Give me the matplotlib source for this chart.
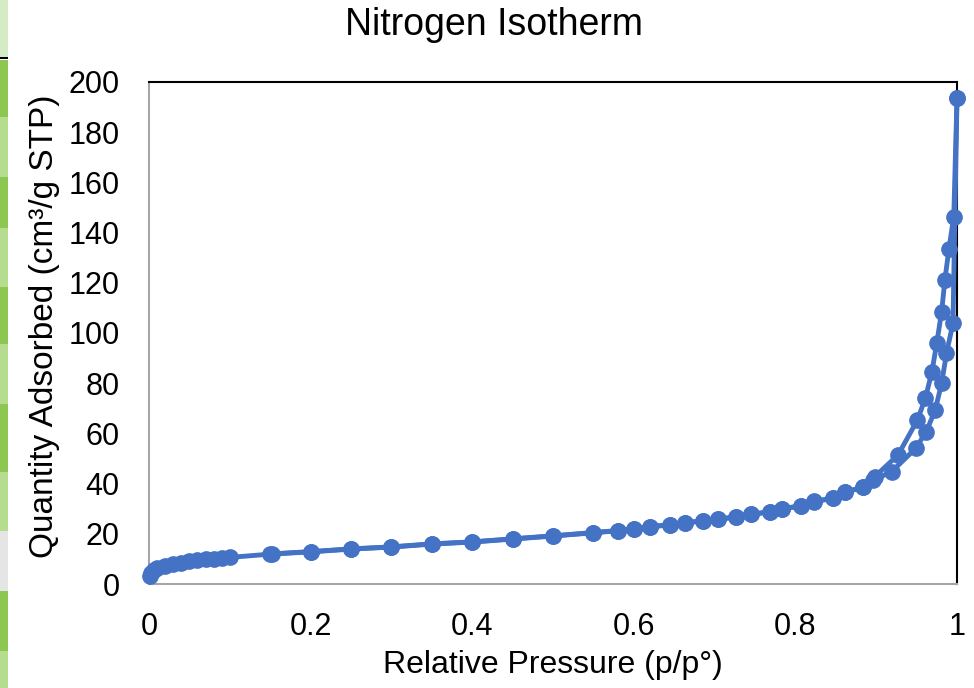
import matplotlib.pyplot as plt
from matplotlib.patches import Rectangle

plt.rcParams['font.family'] = ['Liberation Sans', 'DejaVu Sans']

# adsorption branch (p/p0, quantity adsorbed)
ads_p = [0.001, 0.003, 0.006, 0.01, 0.02, 0.03, 0.04, 0.05, 0.06, 0.07, 0.08, 0.09, 0.10,
         0.15, 0.20, 0.25, 0.30, 0.35, 0.40, 0.45, 0.50, 0.55, 0.58, 0.60, 0.62, 0.645,
         0.663, 0.686, 0.704, 0.726, 0.745, 0.768, 0.784, 0.807, 0.823, 0.846, 0.861,
         0.884, 0.896, 0.919, 0.949, 0.962, 0.973, 0.981, 0.987, 0.995, 1.0]
ads_q = [3.0, 4.3, 5.4, 6.3, 7.3, 8.0, 8.5, 9.0, 9.4, 9.8, 10.1, 10.4, 10.6,
         11.9, 12.8, 13.9, 14.7, 15.9, 16.7, 17.9, 19.1, 20.4, 21.2, 21.9, 22.8, 23.5,
         24.4, 25.0, 25.8, 26.6, 27.8, 28.6, 29.9, 31.1, 32.8, 34.1, 36.5,
         38.5, 41.4, 44.7, 54.1, 60.7, 69.3, 80.0, 91.9, 103.9, 193.5]

# desorption branch
des_p = [1.0, 0.996, 0.990, 0.985, 0.981, 0.975, 0.969, 0.961, 0.951, 0.927, 0.898,
         0.884, 0.861, 0.846, 0.823, 0.807, 0.784, 0.768, 0.745, 0.726, 0.704, 0.686,
         0.663, 0.645, 0.62, 0.60, 0.58, 0.55, 0.50, 0.45, 0.40, 0.35, 0.30, 0.25,
         0.20, 0.152]
des_q = [193.5, 146.3, 133.5, 121.1, 108.5, 96.1, 84.6, 74.2, 65.3, 51.4, 42.7,
         38.6, 36.6, 34.2, 32.9, 31.2, 30.0, 28.7, 27.9, 26.7, 25.9, 25.1,
         24.5, 23.6, 22.9, 22.0, 21.3, 20.5, 19.2, 18.0, 16.8, 16.0, 14.8, 14.0,
         12.9, 12.0]

blue = '#4472C4'

fig = plt.figure(figsize=(9.74, 6.88), dpi=100)
ax = fig.add_axes([149/974, 1 - 584/688, 808/974, 502/688])

ax.plot(ads_p, ads_q, '-o', color=blue, lw=3.5, markersize=11, clip_on=False, zorder=3)
ax.plot(des_p, des_q, '-o', color=blue, lw=3.5, markersize=11, clip_on=False, zorder=3)

ax.set_xlim(0, 1)
ax.set_ylim(0, 200)
ax.set_xticks([0, 0.2, 0.4, 0.6, 0.8, 1.0])
ax.set_xticklabels(['0', '0.2', '0.4', '0.6', '0.8', '1'])
ax.set_yticks(range(0, 201, 20))
ax.tick_params(length=0, labelsize=22)
ax.tick_params(axis='x', pad=20)
ax.tick_params(axis='y', pad=21)

for s in ['left', 'bottom']:
    ax.spines[s].set_color('#A6A6A6')
    ax.spines[s].set_linewidth(1.5)
for s in ['top', 'right']:
    ax.spines[s].set_color('black')
    ax.spines[s].set_linewidth(1.5)

fig.text(494/974, 1 - 25/688, 'Nitrogen Isotherm', fontsize=27, ha='center', va='center')
fig.text(553/974, 1 - 665/688, 'Relative Pressure (p/p°)', fontsize=23, ha='center', va='center')
fig.text(45/974, 1 - 326/688, 'Quantity Adsorbed (cm³/g STP)', fontsize=24,
         rotation=90, ha='center', va='center')

# cropped spreadsheet strip on the left edge
strip = [(0, 57, '#D5EBC6'), (60, 117, '#8CC751'), (117, 177, '#B5DC8F'),
         (177, 228, '#8CC751'), (228, 287, '#B5DC8F'), (287, 344, '#8CC751'),
         (344, 404, '#B5DC8F'), (404, 472, '#8CC751'), (472, 531, '#B5DC8F'),
         (531, 591, '#E5E5E5'), (591, 651, '#8CC751'), (651, 688, '#B5DC8F')]
for y0, y1, c in strip:
    fig.add_artist(Rectangle((0, 1 - y1/688), 8/974, (y1 - y0)/688,
                             transform=fig.transFigure, color=c, lw=0))
fig.add_artist(Rectangle((0, 1 - 59/688), 8/974, 2/688,
                         transform=fig.transFigure, color='black', lw=0))

fig.savefig('out.png', dpi=100)
